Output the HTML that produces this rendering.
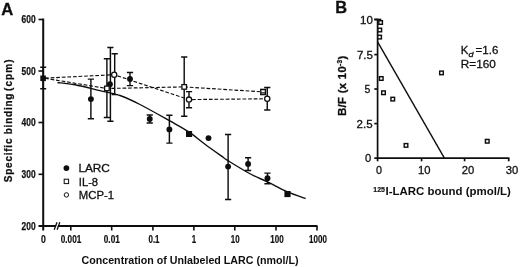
<!DOCTYPE html>
<html><head><meta charset="utf-8"><title>Figure</title>
<style>
html,body{margin:0;padding:0;background:#fff;}
body{width:520px;height:267px;overflow:hidden;font-family:"Liberation Sans",sans-serif;}
svg{display:block;font-family:"Liberation Sans",sans-serif;}
</style></head><body>
<svg width="520" height="267" viewBox="0 0 520 267">
<defs><filter id="soft" x="0" y="0" width="520" height="267" filterUnits="userSpaceOnUse"><feGaussianBlur stdDeviation="0.3"/></filter></defs>
<rect width="520" height="267" fill="#fff"/>
<g filter="url(#soft)">

<text x="1.2" y="14.6" font-size="16.6" font-weight="bold" fill="#111" stroke="#111" stroke-width="0.3">A</text>
<g stroke="#111" stroke-width="2" fill="none" stroke-linecap="butt">
<path d="M43.2 18.5V230.5"/>
<path d="M38.5 226H317.5"/>
</g>
<g stroke="#111" stroke-width="1.6" fill="none">
<path d="M38.5 19.5H43"/>
<path d="M38.5 71H43"/>
<path d="M38.5 122.5H43"/>
<path d="M38.5 174.3H43"/>
<path d="M70.8 226V230.5"/>
<path d="M111.7 226V230.5"/>
<path d="M152.9 226V230.5"/>
<path d="M193.9 226V230.5"/>
<path d="M234.8 226V230.5"/>
<path d="M276 226V230.5"/>
<path d="M317 226V230.5"/>
</g>
<path d="M55.8 229.6L58.4 222.3" stroke="#fff" stroke-width="1.6"/>
<g stroke="#111" stroke-width="1.3"><path d="M54.2 229.8L57 222.2"/><path d="M57.1 229.8L59.8 222.2"/></g>
<text x="35.6" y="23.1" font-size="10" font-weight="bold" text-anchor="end" fill="#111" stroke="#111" stroke-width="0.25" textLength="14" lengthAdjust="spacingAndGlyphs">600</text>
<text x="35.6" y="74.6" font-size="10" font-weight="bold" text-anchor="end" fill="#111" stroke="#111" stroke-width="0.25" textLength="14" lengthAdjust="spacingAndGlyphs">500</text>
<text x="35.6" y="126.1" font-size="10" font-weight="bold" text-anchor="end" fill="#111" stroke="#111" stroke-width="0.25" textLength="14" lengthAdjust="spacingAndGlyphs">400</text>
<text x="35.6" y="177.9" font-size="10" font-weight="bold" text-anchor="end" fill="#111" stroke="#111" stroke-width="0.25" textLength="14" lengthAdjust="spacingAndGlyphs">300</text>
<text x="35.6" y="229.6" font-size="10" font-weight="bold" text-anchor="end" fill="#111" stroke="#111" stroke-width="0.25" textLength="14" lengthAdjust="spacingAndGlyphs">200</text>
<text x="43.4" y="243.2" font-size="10" font-weight="bold" text-anchor="middle" fill="#111" stroke="#111" stroke-width="0.2" textLength="4.8" lengthAdjust="spacingAndGlyphs">0</text>
<text x="71" y="243.2" font-size="10" font-weight="bold" text-anchor="middle" fill="#111" stroke="#111" stroke-width="0.2" textLength="20.5" lengthAdjust="spacingAndGlyphs">0.001</text>
<text x="111.8" y="243.2" font-size="10" font-weight="bold" text-anchor="middle" fill="#111" stroke="#111" stroke-width="0.2" textLength="16" lengthAdjust="spacingAndGlyphs">0.01</text>
<text x="154" y="243.2" font-size="10" font-weight="bold" text-anchor="middle" fill="#111" stroke="#111" stroke-width="0.2" textLength="11" lengthAdjust="spacingAndGlyphs">0.1</text>
<text x="194" y="243.2" font-size="10" font-weight="bold" text-anchor="middle" fill="#111" stroke="#111" stroke-width="0.2" textLength="4.4" lengthAdjust="spacingAndGlyphs">1</text>
<text x="235.2" y="243.2" font-size="10" font-weight="bold" text-anchor="middle" fill="#111" stroke="#111" stroke-width="0.2" textLength="8.8" lengthAdjust="spacingAndGlyphs">10</text>
<text x="277" y="243.2" font-size="10" font-weight="bold" text-anchor="middle" fill="#111" stroke="#111" stroke-width="0.2" textLength="13.3" lengthAdjust="spacingAndGlyphs">100</text>
<text x="318" y="243.2" font-size="10" font-weight="bold" text-anchor="middle" fill="#111" stroke="#111" stroke-width="0.2" textLength="17.8" lengthAdjust="spacingAndGlyphs">1000</text>
<text x="81.5" y="263.6" font-size="10.4" font-weight="bold" fill="#111" textLength="217" lengthAdjust="spacingAndGlyphs">Concentration of Unlabeled LARC (nmol/L)</text>
<g font-size="10" font-weight="bold" fill="#111" stroke="#111" stroke-width="0.25">
<text transform="translate(11.5 182.2) rotate(-90)" textLength="88.6" lengthAdjust="spacing">Specific binding</text>
<text transform="translate(11.5 91) rotate(-90)" textLength="31.6" lengthAdjust="spacing">(cpm)</text>
</g>
<g stroke="#111" stroke-width="1.15" fill="none" stroke-dasharray="3.7 1.9">
<path d="M45 78.3L106.9 88.5L184.1 86.9L263.1 91.9"/>
<path d="M45 78.1L114.1 74.75L189 99.6L267.25 98.75"/>
</g>
<path d="M57.5 82.5C60.42 82.88 67.92 83.45 75 84.8C82.08 86.15 92.50 88.82 100 90.6C107.50 92.38 113.33 93.18 120 95.5C126.67 97.82 131.77 100.30 140 104.5C148.23 108.70 161.28 116.13 169.4 120.7C177.53 125.27 182.82 127.98 188.75 131.9C194.68 135.82 199.17 139.90 205 144.2C210.83 148.50 219.92 154.95 223.75 157.7C227.58 160.45 223.62 158.02 228 160.7C232.38 163.38 243.42 170.22 250 173.75C256.58 177.28 261.25 178.88 267.5 181.9C273.75 184.93 281.15 189.13 287.5 191.9C293.85 194.67 302.58 197.40 305.6 198.5" stroke="#111" stroke-width="1.4" fill="none"/>
<path d="M43.2 67.3V88.8M40.2 67.3H46.2M40.2 88.8H46.2" stroke="#111" stroke-width="1.45" fill="none"/>
<rect x="40.3" y="75.5" width="5.6" height="5.6" fill="#111"/>
<path d="M90.9 79.1V118.8M87.80000000000001 79.1H94.0M87.80000000000001 118.8H94.0" stroke="#111" stroke-width="1.45" fill="none"/>
<circle cx="90.9" cy="99.1" r="2.95" fill="#111"/>
<path d="M110.4 47.5V121.3M107.30000000000001 47.5H113.5M107.30000000000001 121.3H113.5" stroke="#111" stroke-width="1.45" fill="none"/>
<circle cx="109.9" cy="84.2" r="2.95" fill="#111"/>
<path d="M130 72.5V85.6M126.9 72.5H133.1M126.9 85.6H133.1" stroke="#111" stroke-width="1.45" fill="none"/>
<circle cx="130" cy="79" r="2.95" fill="#111"/>
<path d="M149.75 115V122.9M146.65 115H152.85M146.65 122.9H152.85" stroke="#111" stroke-width="1.45" fill="none"/>
<circle cx="149.75" cy="118.9" r="2.95" fill="#111"/>
<path d="M169.4 115.3V143.1M166.3 115.3H172.5M166.3 143.1H172.5" stroke="#111" stroke-width="1.45" fill="none"/>
<circle cx="169.4" cy="129.4" r="2.95" fill="#111"/>
<path d="M228.1 134.4V199.4M225.0 134.4H231.2M225.0 199.4H231.2" stroke="#111" stroke-width="1.45" fill="none"/>
<circle cx="228.1" cy="166.6" r="2.95" fill="#111"/>
<path d="M248.1 157.8V170.4M245.0 157.8H251.2M245.0 170.4H251.2" stroke="#111" stroke-width="1.45" fill="none"/>
<circle cx="248.1" cy="164" r="2.95" fill="#111"/>
<path d="M267.5 173.1V183.75M264.4 173.1H270.6M264.4 183.75H270.6" stroke="#111" stroke-width="1.45" fill="none"/>
<circle cx="267.5" cy="178.3" r="2.95" fill="#111"/>
<circle cx="208.5" cy="138.1" r="2.95" fill="#111"/>
<rect x="186" y="131" width="6.1" height="6" fill="#111"/>
<rect x="284.4" y="191" width="6.2" height="6.1" fill="#111"/>
<path d="M106.9 58.8V117.5M103.80000000000001 58.8H110.0M103.80000000000001 117.5H110.0" stroke="#111" stroke-width="1.45" fill="none"/>
<rect x="104.60000000000001" y="86.10000000000001" width="4.6" height="4.6" fill="#fff" stroke="#111" stroke-width="1.3"/>
<path d="M184.2 56.9V116.3M181.1 56.9H187.29999999999998M181.1 116.3H187.29999999999998" stroke="#111" stroke-width="1.45" fill="none"/>
<rect x="181.89999999999998" y="84.60000000000001" width="4.6" height="4.6" fill="#fff" stroke="#111" stroke-width="1.3"/>
<path d="M263.1 89.4V94.4M260.0 89.4H266.20000000000005M260.0 94.4H266.20000000000005" stroke="#111" stroke-width="1.45" fill="none"/>
<rect x="260.8" y="89.60000000000001" width="4.6" height="4.6" fill="#fff" stroke="#111" stroke-width="1.3"/>
<path d="M260.8 92.7H265.4" stroke="#111" stroke-width="0.9"/>
<path d="M114.7 53.75V94.6M111.60000000000001 53.75H117.8M111.60000000000001 94.6H117.8" stroke="#111" stroke-width="1.45" fill="none"/>
<circle cx="114.2" cy="74.75" r="2.6" fill="#fff" stroke="#111" stroke-width="1.3"/>
<path d="M189 91.6V107.8M185.9 91.6H192.1M185.9 107.8H192.1" stroke="#111" stroke-width="1.45" fill="none"/>
<circle cx="189" cy="99.6" r="2.6" fill="#fff" stroke="#111" stroke-width="1.3"/>
<path d="M267.25 87.5V110M264.15 87.5H270.35M264.15 110H270.35" stroke="#111" stroke-width="1.45" fill="none"/>
<circle cx="267.25" cy="98.75" r="2.6" fill="#fff" stroke="#111" stroke-width="1.3"/>
<circle cx="66.4" cy="168.1" r="2.9" fill="#111"/>
<rect x="64.2" y="179.2" width="4.4" height="4.4" fill="#fff" stroke="#111" stroke-width="1"/>
<circle cx="66.4" cy="194.9" r="2.2" fill="#fff" stroke="#111" stroke-width="1"/>
<g stroke="#111" stroke-width="0.3" font-size="10.8" fill="#111">
<text x="78.4" y="172.3" textLength="31.5" lengthAdjust="spacingAndGlyphs">LARC</text>
<text x="78.8" y="185.7" textLength="19.3" lengthAdjust="spacingAndGlyphs">IL-8</text>
<text x="78.8" y="198.9" textLength="35.3" lengthAdjust="spacingAndGlyphs">MCP-1</text>
</g>
<text x="335.2" y="13.3" font-size="16.4" font-weight="bold" fill="#111" stroke="#111" stroke-width="0.3">B</text>
<g stroke="#111" stroke-width="1.7" fill="none">
<path d="M377.6 18.8V161.3"/>
<path d="M374.3 158.1H509.4"/>
<path d="M374.3 19.5H377.6"/>
<path d="M374.3 54.6H377.6"/>
<path d="M374.3 89H377.6"/>
<path d="M374.3 123.6H377.6"/>
<path d="M374.3 19.5H381.3"/>
<path d="M421.6 158.1V161.3"/>
<path d="M464.6 158.1V161.3"/>
<path d="M508.7 158.1V161.3"/>
</g>
<text x="372.8" y="23.6" font-size="11" text-anchor="end" fill="#111" stroke="#111" stroke-width="0.3" textLength="12.8" lengthAdjust="spacingAndGlyphs">10</text>
<text x="372.9" y="58.7" font-size="11" text-anchor="end" fill="#111" stroke="#111" stroke-width="0.3" textLength="16" lengthAdjust="spacingAndGlyphs">7.5</text>
<text x="370.4" y="93.1" font-size="11" text-anchor="end" fill="#111" stroke="#111" stroke-width="0.3" textLength="5.8" lengthAdjust="spacingAndGlyphs">5</text>
<text x="372.6" y="127.89999999999999" font-size="11" text-anchor="end" fill="#111" stroke="#111" stroke-width="0.3" textLength="16" lengthAdjust="spacingAndGlyphs">2.5</text>
<text x="371.3" y="162.2" font-size="11" text-anchor="end" fill="#111" stroke="#111" stroke-width="0.3" textLength="6.2" lengthAdjust="spacingAndGlyphs">0</text>
<text x="378.9" y="174.4" font-size="11" text-anchor="middle" fill="#111" stroke="#111" stroke-width="0.3" textLength="6" lengthAdjust="spacingAndGlyphs">0</text>
<text x="424.2" y="174.4" font-size="11" text-anchor="middle" fill="#111" stroke="#111" stroke-width="0.3" textLength="12.5" lengthAdjust="spacingAndGlyphs">10</text>
<text x="468" y="174.4" font-size="11" text-anchor="middle" fill="#111" stroke="#111" stroke-width="0.3" textLength="12.5" lengthAdjust="spacingAndGlyphs">20</text>
<text x="512" y="174.4" font-size="11" text-anchor="middle" fill="#111" stroke="#111" stroke-width="0.3" textLength="12.5" lengthAdjust="spacingAndGlyphs">30</text>
<text x="373.3" y="192.2" font-size="6.8" font-weight="bold" stroke="#111" stroke-width="0.2" fill="#111" textLength="11.6" lengthAdjust="spacingAndGlyphs">125</text>
<text x="385.6" y="195" font-size="11.3" font-weight="bold" fill="#111" textLength="125.3" lengthAdjust="spacingAndGlyphs">I-LARC bound (pmol/L)</text>
<text transform="translate(345.7 115.8) rotate(-90)" font-size="11.2" font-weight="bold" fill="#111" stroke="#111" stroke-width="0.3" textLength="60" lengthAdjust="spacing">B/F (x 10<tspan dy="-3.6" font-size="6.5">-3</tspan><tspan dy="3.6">)</tspan></text>
<path d="M377.6 41.9L444.4 158.1" stroke="#111" stroke-width="1.4" fill="none"/>
<rect x="378.8" y="20.7" width="3.6" height="3.6" fill="#fff" stroke="#111" stroke-width="1.45"/>
<rect x="377.95" y="28.2" width="3.6" height="3.6" fill="#fff" stroke="#111" stroke-width="1.45"/>
<rect x="377.8" y="35.300000000000004" width="3.6" height="3.6" fill="#fff" stroke="#111" stroke-width="1.45"/>
<rect x="379.45" y="76.7" width="3.6" height="3.6" fill="#fff" stroke="#111" stroke-width="1.45"/>
<rect x="381.7" y="90.95" width="3.6" height="3.6" fill="#fff" stroke="#111" stroke-width="1.45"/>
<rect x="390.95" y="97.3" width="3.6" height="3.6" fill="#fff" stroke="#111" stroke-width="1.45"/>
<rect x="404.2" y="143.6" width="3.6" height="3.6" fill="#fff" stroke="#111" stroke-width="1.45"/>
<rect x="439.7" y="71.10000000000001" width="3.6" height="3.6" fill="#fff" stroke="#111" stroke-width="1.45"/>
<rect x="485.45" y="139.45" width="3.6" height="3.6" fill="#fff" stroke="#111" stroke-width="1.45"/>
<g stroke="#111" stroke-width="0.3" font-size="11" fill="#111">
<text x="460.8" y="54.4" textLength="7.6" lengthAdjust="spacingAndGlyphs">K</text>
<text x="468.4" y="56.6" font-size="8" font-style="italic" textLength="5" lengthAdjust="spacingAndGlyphs">d</text>
<text x="475.6" y="54.4" textLength="22.7" lengthAdjust="spacingAndGlyphs">=1.6</text>
<text x="460.8" y="68.3" textLength="35" lengthAdjust="spacingAndGlyphs">R=160</text>
</g>
</g></svg></body></html>
